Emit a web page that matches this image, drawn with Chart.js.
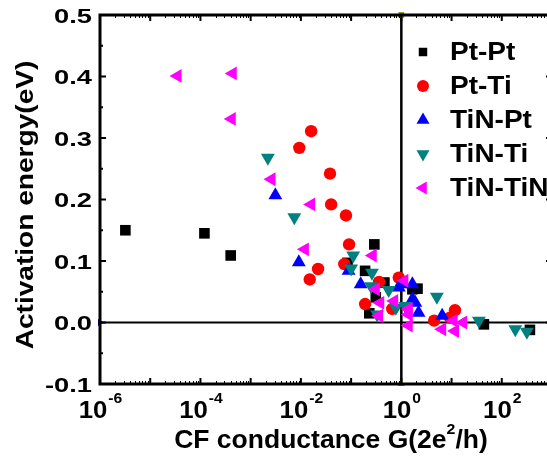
<!DOCTYPE html>
<html>
<head>
<meta charset="utf-8">
<script src="https://cdn.jsdelivr.net/npm/chart.js@4.4.1/dist/chart.umd.min.js"></script>
<style>
  html, body { margin: 0; padding: 0; background: #fff; overflow: hidden; }
  #wrap { width: 547px; height: 460px; overflow: hidden; }
</style>
</head>
<body>
<div id="wrap"><canvas id="chart" width="560" height="460"></canvas></div>
<script>
// series (x = conductance in 2e^2/h, y = activation energy in eV)
const ptPtX = [3.2e-6, 1.2e-4, 4.0e-4, 0.085, 0.29, 0.19, 0.46, 0.31, 0.23, 1.66, 2.1, 44, 363];
const ptPtY = [0.150, 0.145, 0.109, 0.097, 0.127, 0.084, 0.065, 0.041, 0.015, 0.054, 0.055, -0.003, -0.012];

const ptTiX = [0.0093, 0.016, 0.038, 0.040, 0.079, 0.015, 0.022, 0.091, 0.073, 0.36, 0.19, 0.66, 0.89, 4.5, 9.3, 11.7];
const ptTiY = [0.284, 0.311, 0.242, 0.192, 0.174, 0.070, 0.087, 0.127, 0.095, 0.066, 0.030, 0.022, 0.073, 0.003, 0.008, 0.020];

const tinPtX = [0.0031, 0.0091, 0.089, 0.155, 0.89, 0.96, 1.66, 1.66, 1.9, 2.2, 6.5];
const tinPtY = [0.207, 0.098, 0.084, 0.062, 0.057, 0.062, 0.062, 0.038, 0.032, 0.016, 0.011];

const tinTiX = [0.0022, 0.0074, 0.11, 0.10, 0.26, 0.25, 0.56, 0.78, 1.2, 0.33, 5.1, 35, 186, 316];
const tinTiY = [0.268, 0.171, 0.109, 0.088, 0.081, 0.059, 0.053, 0.024, 0.027, 0.013, 0.042, 0.003, -0.011, -0.015];

const tinTinX = [3.5e-5, 4.4e-4, 4.2e-4, 0.0026, 0.016, 0.012, 0.27, 0.31, 1.15, 0.38, 0.72, 0.36, 1.4, 1.4, 1.4, 6.5, 11.7, 17, 11];
const tinTinY = [0.401, 0.405, 0.331, 0.233, 0.192, 0.119, 0.109, 0.054, 0.068, 0.032, 0.035, 0.011, 0.022, 0.013, -0.005, -0.011, -0.014, 0.000, 0.003];

// reference lines at E = 0 and G = 1
const zeroLineX = [1e-6, 1e3];
const zeroLineY = [0, 0];
const unitLineX = [1, 1];
const unitLineY = [-0.1, 0.5];

// axes
const xMin = 1e-6, xMax = 1e3;
const yMin = -0.1, yMax = 0.5;
const yTicks = [-0.1, 0, 0.1, 0.2, 0.3, 0.4, 0.5];
const yTickLabels = ['-0.1', '0.0', '0.1', '0.2', '0.3', '0.4', '0.5'];
const xTickExps = [-6, -4, -2, 0, 2];

function pts(xs, ys) {
  return xs.map((x, i) => ({ x: x, y: ys[i] }));
}

function series(label, xs, ys, color, style, rotation, radius, order) {
  return {
    label: label,
    data: pts(xs, ys),
    pointStyle: style,
    rotation: rotation,
    pointRadius: radius,
    pointBackgroundColor: color,
    pointBorderColor: color,
    pointBorderWidth: 0,
    backgroundColor: color,
    order: order,
    isSeries: true
  };
}

const FONT = '"Liberation Sans", Arial, sans-serif';

// stretched bold text, as in the exported figure
function txt(ctx, s, x, y, size, sx, align) {
  ctx.save();
  ctx.font = 'bold ' + size + 'px ' + FONT;
  ctx.translate(x, y);
  ctx.scale(sx, 1);
  ctx.textAlign = align || 'left';
  ctx.textBaseline = 'alphabetic';
  ctx.fillStyle = '#000';
  ctx.fillText(s, 0, 0);
  ctx.restore();
}
function wid(ctx, s, size, sx) {
  ctx.font = 'bold ' + size + 'px ' + FONT;
  return ctx.measureText(s).width * sx;
}

const framePlugin = {
  id: 'frame',
  afterDraw(chart) {
    const ctx = chart.ctx;
    const a = chart.chartArea;
    const xs = chart.scales.x, ys = chart.scales.y;
    ctx.save();
    ctx.strokeStyle = '#000';

    // ticks (inward on all four sides)
    ctx.lineWidth = 2;
    ctx.beginPath();
    yTicks.forEach(v => {
      const py = ys.getPixelForValue(v);
      ctx.moveTo(a.left, py); ctx.lineTo(a.left + 6, py);
      ctx.moveTo(a.right, py); ctx.lineTo(a.right - 6, py);
      if (v < yMax) {
        const pm = ys.getPixelForValue(v + 0.05);
        ctx.moveTo(a.left, pm); ctx.lineTo(a.left + 3, pm);
        ctx.moveTo(a.right, pm); ctx.lineTo(a.right - 3, pm);
      }
    });
    for (let e = -6; e <= 3; e++) {
      const px = xs.getPixelForValue(Math.pow(10, e));
      ctx.moveTo(px, a.bottom); ctx.lineTo(px, a.bottom - 6);
      ctx.moveTo(px, a.top); ctx.lineTo(px, a.top + 6);
    }
    ctx.stroke();
    ctx.lineWidth = 1;
    ctx.beginPath();
    for (let e = -6; e < 3; e++) {
      for (let m = 2; m <= 9; m++) {
        const px = Math.round(xs.getPixelForValue(m * Math.pow(10, e))) + 0.5;
        ctx.moveTo(px, a.bottom); ctx.lineTo(px, a.bottom - 3);
        ctx.moveTo(px, a.top); ctx.lineTo(px, a.top + 3);
      }
    }
    ctx.stroke();

    // frame
    ctx.lineWidth = 3;
    ctx.strokeRect(a.left, a.top, a.right - a.left, a.bottom - a.top);

    // y tick labels
    yTicks.forEach((v, i) => {
      const py = ys.getPixelForValue(v);
      txt(ctx, yTickLabels[i], 92, py + 7.5, 21, 1.3, 'right');
    });

    // x tick labels 10^n
    xTickExps.forEach(e => {
      const px = xs.getPixelForValue(Math.pow(10, e));
      const base = '10', sup = String(e);
      const w1 = wid(ctx, base, 23, 1.12);
      const w2 = wid(ctx, sup, 14, 1.12);
      const x0 = px - (w1 + w2) / 2;
      txt(ctx, base, x0, 418, 23, 1.12, 'left');
      txt(ctx, sup, x0 + w1 + 1, 403, 14, 1.12, 'left');
    });

    // x title with superscript
    const t1 = 'CF conductance G(2e', t2 = '2', t3 = '/h)';
    const w1 = wid(ctx, t1, 25, 1.06), w2 = wid(ctx, t2, 15, 1.06), w3 = wid(ctx, t3, 25, 1.06);
    const tx = 331 - (w1 + w2 + w3) / 2;
    txt(ctx, t1, tx, 448, 25, 1.06, 'left');
    txt(ctx, t2, tx + w1, 434, 15, 1.06, 'left');
    txt(ctx, t3, tx + w1 + w2, 448, 25, 1.06, 'left');

    // y title, rotated
    ctx.save();
    ctx.translate(33, 205);
    ctx.rotate(-Math.PI / 2);
    txt(ctx, 'Activation energy(eV)', 0, 0, 24, 1.17, 'center');
    ctx.restore();

    // legend inside the plot
    let row = 0;
    chart.data.datasets.forEach(ds => {
      if (!ds.isSeries) return;
      const cy = 51 + 34 * row;
      ctx.fillStyle = ds.pointBackgroundColor;
      ctx.strokeStyle = ds.pointBackgroundColor;
      Chart.helpers.drawPoint(ctx, {
        pointStyle: ds.pointStyle,
        rotation: ds.rotation,
        radius: ds.pointStyle === 'rect' ? 6 : (ds.pointStyle === 'circle' ? 6 : 7.5),
        borderWidth: 0
      }, 423, cy + 1);
      txt(ctx, ds.label, 450, cy + 9, 25, 1.12, 'left');
      row++;
    });
    ctx.restore();
  }
};

new Chart(document.getElementById('chart'), {
  type: 'scatter',
  data: {
    datasets: [
      series('Pt-Pt', ptPtX, ptPtY, '#000000', 'rect', 0, 7.5, 5),
      series('Pt-Ti', ptTiX, ptTiY, '#ff0000', 'circle', 0, 6.2, 4),
      series('TiN-Pt', tinPtX, tinPtY, '#0000ff', 'triangle', 0, 8, 3),
      series('TiN-Ti', tinTiX, tinTiY, '#008080', 'triangle', 180, 8, 2),
      series('TiN-TiN', tinTinX, tinTinY, '#ff00ff', 'triangle', 270, 8, 1),
      {
        label: 'zero',
        data: pts(zeroLineX, zeroLineY),
        showLine: true,
        borderColor: '#000',
        borderWidth: 2,
        pointStyle: 'triangle',
        rotation: 90,
        pointRadius: 4,
        pointBackgroundColor: '#000080',
        pointBorderWidth: 0,
        clip: false,
        order: 10
      },
      {
        label: 'unit',
        data: pts(unitLineX, unitLineY),
        showLine: true,
        borderColor: '#000',
        borderWidth: 2.5,
        pointStyle: ['triangle', 'rect'],
        pointRadius: 4,
        pointBackgroundColor: '#808000',
        pointBorderWidth: 0,
        clip: false,
        order: 10
      }
    ]
  },
  options: {
    responsive: false,
    animation: false,
    layout: { padding: { top: 15, right: 6, left: 0, bottom: 0 } },
    plugins: { legend: { display: false }, tooltip: { enabled: false } },
    scales: {
      x: {
        type: 'logarithmic',
        min: xMin,
        max: xMax,
        ticks: { display: false },
        grid: { display: false },
        border: { display: false },
        afterFit(s) { s.height = 76; }
      },
      y: {
        min: yMin,
        max: yMax,
        ticks: { display: false },
        grid: { display: false },
        border: { display: false },
        afterFit(s) { s.width = 100; }
      }
    }
  },
  plugins: [framePlugin]
});
</script>
</body>
</html>
